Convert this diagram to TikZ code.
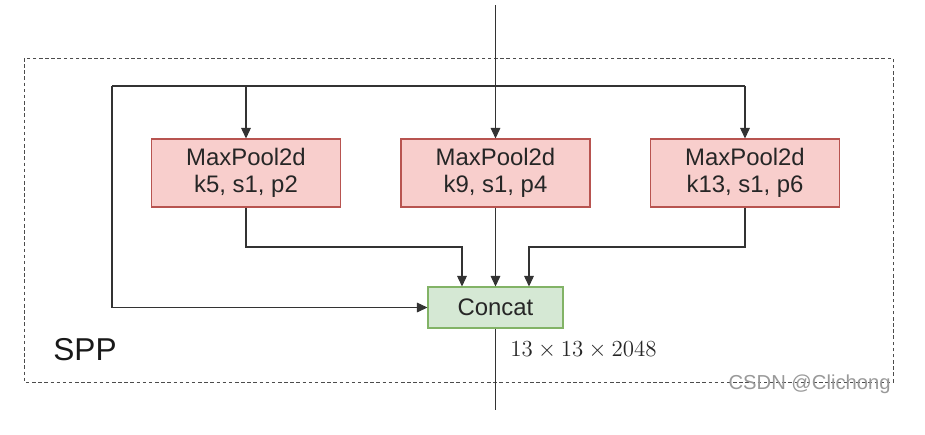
\documentclass[tikz,border=0pt]{standalone}
\usepackage[no-math]{fontspec}
\setmainfont{Liberation Sans}
\usetikzlibrary{arrows.meta}
\definecolor{poolfill}{HTML}{F8CECC}
\definecolor{pooldraw}{HTML}{B85450}
\definecolor{catfill}{HTML}{D5E8D4}
\definecolor{catdraw}{HTML}{82B366}
\begin{document}
\begin{tikzpicture}[x=.02cm,y=-.02cm,line width=.6pt,
  pool/.style={draw=pooldraw,fill=poolfill,minimum width=3.78cm,minimum height=1.36cm,align=center,
    font=\fontsize{13.6}{15.5}\selectfont,text=black!85},
  cat/.style={draw=catdraw,fill=catfill,minimum width=2.7cm,minimum height=.82cm,
    font=\fontsize{13.6}{15.5}\selectfont,text=black!85},
  arr/.style={draw=black!80,-{Triangle[length=6pt,width=5.5pt]}},
  wire/.style={draw=black!80}]
  \useasboundingbox (0,0) rectangle (925,434);
  \draw[black!70,line width=.5pt,dash pattern=on 2pt off 1.5pt] (24,58) rectangle (893,382);
  \node[pool] (k5) at (246,173) {MaxPool2d\\k5, s1, p2};
  \node[pool] (k9) at (495.5,173) {MaxPool2d\\k9, s1, p4};
  \node[pool] (k13) at (745,173) {MaxPool2d\\k13, s1, p6};
  \node[cat] (cat) at (495.5,307.5) {Concat};
  \coordinate (in) at (495.5,5); \coordinate (out) at (495.5,410);
  \coordinate (bl) at (112,86); \coordinate (br) at (745,86);
  \coordinate (m5) at (462,247); \coordinate (m13) at (529,247);
  \draw[arr] (in) -- (k9); \draw[wire] (bl) -- (br);
  \draw[arr] (k5 |- bl) -- (k5); \draw[arr] (br) -- (k13);
  \draw[arr] (bl) |- (cat);
  \draw[arr] (k5) |- (m5) -- (m5 |- cat.north); \draw[arr] (k9) -- (cat);
  \draw[arr] (k13) |- (m13) -- (m13 |- cat.north); \draw[wire] (cat) -- (out);
  \node[anchor=west,text=black!85,font=\fontsize{12}{14}\selectfont] (dim) at (504,350) {\scalebox{1.09}{$13\times13\times2048$}};
  \node[anchor=west,text=black!90,font=\fontsize{18}{21}\selectfont] (spp) at (47,350) {SPP};
  \node[anchor=east,text=black!40,font=\fontsize{11.5}{13}\selectfont] (mark) at (897,384) {CSDN @Clichong};
\end{tikzpicture}
\end{document}
